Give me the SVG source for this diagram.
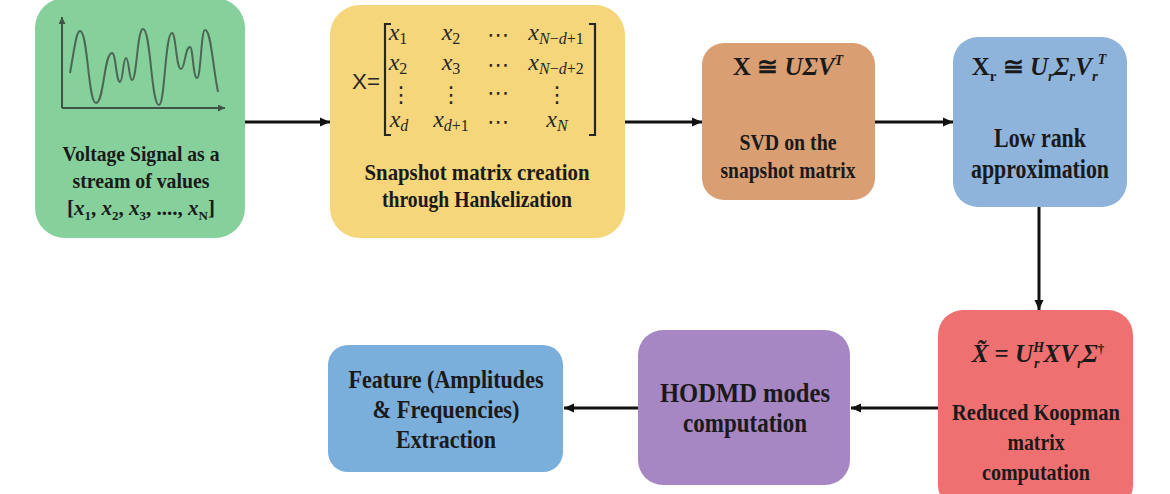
<svg xmlns="http://www.w3.org/2000/svg" width="1170" height="494" viewBox="0 0 1170 494">
<style>
.lbl{font-family:'Liberation Serif','Times New Roman',serif;font-weight:bold;fill:#1a1a1a;text-anchor:middle}
.fm{font-family:'Liberation Serif','Times New Roman','DejaVu Serif',serif;font-weight:bold;fill:#1a1a1a;text-anchor:middle}
.it{font-style:italic}
.mx{font-family:'Liberation Serif','DejaVu Serif',serif;font-style:italic;fill:#262626;text-anchor:middle;font-size:24px}
.ms{font-size:16px}
.md{font-style:normal}
.mc{font-family:'DejaVu Sans',sans-serif;font-style:normal;fill:#262626;text-anchor:middle;font-size:22px}
.conn{stroke:#111;stroke-width:3;fill:none;marker-end:url(#ah)}
</style>
<defs>
<marker id="ah" markerUnits="userSpaceOnUse" markerWidth="10" markerHeight="10" refX="10" refY="5" orient="auto"><path d="M0,0.5 L10,5 L0,9.5 z" fill="#111"/></marker>
<marker id="ax" markerUnits="userSpaceOnUse" markerWidth="7" markerHeight="7" refX="7" refY="3.5" orient="auto"><path d="M0,0 L7,3.5 L0,7 z" fill="#3f5446"/></marker>
</defs>
<rect width="1170" height="494" fill="#ffffff"/>

<g id="node-signal">
<rect x="35" y="-2" width="210" height="240" rx="30" fill="#86d09c"/>
<path d="M62,108 V17" stroke="#3f5446" stroke-width="2" fill="none" marker-end="url(#ax)"/>
<path d="M62,108 H225" stroke="#3f5446" stroke-width="2" fill="none" marker-end="url(#ax)"/>
<path d="M70,73 C74,52 76,31 80,31 C88,31 88,103 96,103 C104,103 104,53 112,53 C116,53 116,82 120,82 C123,82 123,58 126,58 C129,58 129,80 132,80 C137,80 137,29 143,29 C151,29 151,105 159,105 C165,105 165,33 172,33 C176,33 176,69 181,69 C185,69 185,47 190,47 C193,47 193,78 197,78 C201,78 201,30 205,30 C211,30 212,61 218,92" stroke="#4d6654" stroke-width="2" fill="none"/>
<text class="lbl" x="141" y="161" font-size="22" textLength="157" lengthAdjust="spacingAndGlyphs">Voltage Signal as a</text>
<text class="lbl" x="141" y="188" font-size="22" textLength="137" lengthAdjust="spacingAndGlyphs">stream of values</text>
<text class="fm" x="141" y="215" font-size="21">[<tspan class="it">x</tspan><tspan font-size="13" dy="5">1</tspan><tspan dy="-5">, </tspan><tspan class="it">x</tspan><tspan font-size="13" dy="5">2</tspan><tspan dy="-5">, </tspan><tspan class="it">x</tspan><tspan font-size="13" dy="5">3</tspan><tspan dy="-5">, ...., </tspan><tspan class="it">x</tspan><tspan font-size="13" dy="5">N</tspan><tspan dy="-5">]</tspan></text>
</g>

<g id="node-snapshot">
<rect x="330" y="5" width="295" height="233" rx="30" fill="#f6d67a"/>
<text x="366" y="89" font-family="'Liberation Sans Narrow','Liberation Sans',sans-serif" font-size="22" fill="#262626" text-anchor="middle" textLength="28" lengthAdjust="spacingAndGlyphs">X=</text>
<path d="M391,24 H385 V135 H391" stroke="#262626" stroke-width="2.2" fill="none"/>
<path d="M589,24 H595 V135 H589" stroke="#262626" stroke-width="2.2" fill="none"/>
<text class="mx" x="398" y="40">x<tspan class="ms md" dy="4">1</tspan></text>
<text class="mx" x="451" y="40">x<tspan class="ms md" dy="4">2</tspan></text>
<text class="mc" x="498" y="42">⋯</text>
<text class="mx" x="556" y="40">x<tspan class="ms" dy="4">N</tspan><tspan class="ms md">−</tspan><tspan class="ms">d</tspan><tspan class="ms md">+1</tspan></text>
<text class="mx" x="398" y="70">x<tspan class="ms md" dy="4">2</tspan></text>
<text class="mx" x="451" y="70">x<tspan class="ms md" dy="4">3</tspan></text>
<text class="mc" x="498" y="72">⋯</text>
<text class="mc" x="401" y="102">⋮</text>
<text class="mx" x="556" y="70">x<tspan class="ms" dy="4">N</tspan><tspan class="ms md">−</tspan><tspan class="ms">d</tspan><tspan class="ms md">+2</tspan></text>
<text class="mc" x="451" y="102">⋮</text>
<text class="mc" x="498" y="100">⋯</text>
<text class="mc" x="557" y="102">⋮</text>
<text class="mx" x="399" y="127">x<tspan class="ms" dy="4">d</tspan></text>
<text class="mx" x="451" y="127">x<tspan class="ms" dy="4">d</tspan><tspan class="ms md">+1</tspan></text>
<text class="mc" x="498" y="129">⋯</text>
<text class="mx" x="557" y="127">x<tspan class="ms" dy="4">N</tspan></text>
<text class="lbl" x="477" y="180" font-size="24" textLength="225" lengthAdjust="spacingAndGlyphs">Snapshot matrix creation</text>
<text class="lbl" x="477" y="207" font-size="24" textLength="190" lengthAdjust="spacingAndGlyphs">through Hankelization</text>
</g>

<g id="node-svd">
<rect x="702" y="43" width="173" height="157" rx="22" fill="#d99f73"/>
<text class="fm" x="788" y="75" font-size="25">X ≅ <tspan class="it">UΣV</tspan><tspan class="it" font-size="14" dy="-10">T</tspan></text>
<text class="lbl" x="788" y="150" font-size="23" textLength="97" lengthAdjust="spacingAndGlyphs">SVD on the</text>
<text class="lbl" x="788" y="178" font-size="23" textLength="135" lengthAdjust="spacingAndGlyphs">snapshot matrix</text>
</g>

<g id="node-lowrank">
<rect x="953" y="37" width="174" height="170" rx="25" fill="#8fb4dc"/>
<text class="fm" x="1039" y="75" font-size="25">X<tspan font-size="15" dy="6">r</tspan><tspan dy="-6"> ≅ </tspan><tspan class="it">U</tspan><tspan class="it" font-size="15" dy="6">r</tspan><tspan class="it" dy="-6">Σ</tspan><tspan class="it" font-size="15" dy="6">r</tspan><tspan class="it" dy="-6">V</tspan><tspan class="it" font-size="15" dy="6">r</tspan><tspan class="it" font-size="14" dy="-17">T</tspan></text>
<text class="lbl" x="1040" y="147" font-size="27" textLength="92" lengthAdjust="spacingAndGlyphs">Low rank</text>
<text class="lbl" x="1040" y="178" font-size="27" textLength="138" lengthAdjust="spacingAndGlyphs">approximation</text>
</g>

<g id="node-koopman">
<rect x="938" y="310" width="195" height="200" rx="25" fill="#ee7070"/>
<text class="fm" x="1038" y="362" font-size="25"><tspan class="it">X̃</tspan> = <tspan class="it">U</tspan><tspan class="it" font-size="14" dy="-10">H</tspan><tspan class="it" font-size="14" dx="-10" dy="16">r</tspan><tspan class="it" dx="4" dy="-6">XV</tspan><tspan class="it" font-size="14" dy="6">r</tspan><tspan class="it" dy="-6">Σ</tspan><tspan font-size="13" dy="-9">†</tspan></text>
<text class="lbl" x="1036" y="420" font-size="23" textLength="168" lengthAdjust="spacingAndGlyphs">Reduced Koopman</text>
<text class="lbl" x="1036" y="450" font-size="23" textLength="57" lengthAdjust="spacingAndGlyphs">matrix</text>
<text class="lbl" x="1036" y="480" font-size="23" textLength="108" lengthAdjust="spacingAndGlyphs">computation</text>
</g>

<g id="node-hodmd">
<rect x="638" y="330" width="212" height="155" rx="25" fill="#a686c3"/>
<text class="lbl" x="745" y="402" font-size="28" textLength="170" lengthAdjust="spacingAndGlyphs">HODMD modes</text>
<text class="lbl" x="745" y="432" font-size="28" textLength="124" lengthAdjust="spacingAndGlyphs">computation</text>
</g>

<g id="node-feature">
<rect x="328" y="345" width="235" height="127" rx="20" fill="#7aaedb"/>
<text class="lbl" x="446" y="388" font-size="26" textLength="195" lengthAdjust="spacingAndGlyphs">Feature (Amplitudes</text>
<text class="lbl" x="446" y="418" font-size="26" textLength="147" lengthAdjust="spacingAndGlyphs">&amp; Frequencies)</text>
<text class="lbl" x="446" y="448" font-size="26" textLength="100" lengthAdjust="spacingAndGlyphs">Extraction</text>
</g>

<g id="connectors">
<path class="conn" d="M245,122 H330"/>
<path class="conn" d="M625,122 H702"/>
<path class="conn" d="M875,122 H953"/>
<path class="conn" d="M1039,207 V310"/>
<path class="conn" d="M938,408 H851"/>
<path class="conn" d="M638,408 H564"/>
</g>
</svg>
